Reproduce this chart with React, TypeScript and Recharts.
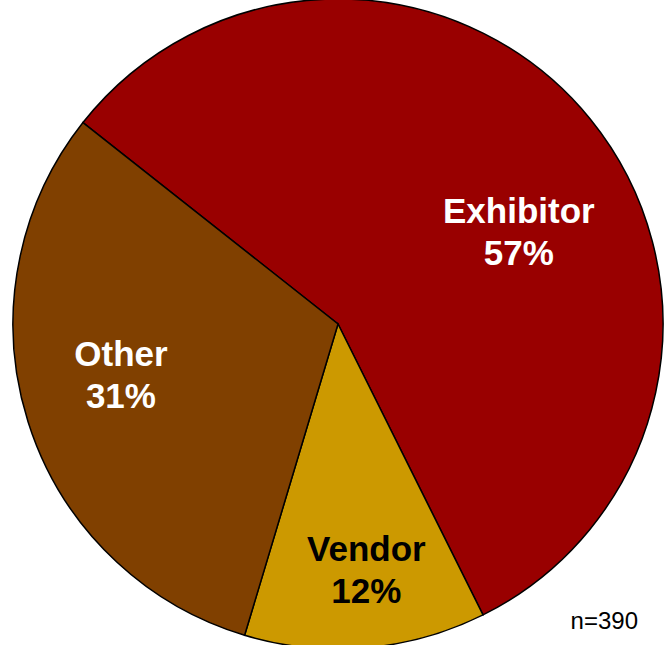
import { Cell, Pie, PieChart } from "recharts";

const categories = ["Exhibitor", "Vendor", "Other"];
const shares = [57, 12, 31];
const sampleNote = "n=390";

const sliceColors = ["#990000", "#CC9900", "#804000"];
const labelColors = ["#ffffff", "#000000", "#ffffff"];
// where each two-line label sits: angle in degrees, distance as a share of the radius
const labelSpots = [
  { angle: 27.1, ratio: 0.625 },
  { angle: -83.4, ratio: 0.76 },
  { angle: 193.2, ratio: 0.686 },
];

const rows = categories.map((name, i) => ({ name, value: shares[i] }));

const RAD = Math.PI / 180;

function SliceLabel(props: any) {
  const { cx, cy, outerRadius, index, name, value } = props;
  const spot = labelSpots[index];
  const r = outerRadius * spot.ratio;
  const x = cx + r * Math.cos(spot.angle * RAD);
  const y = cy - r * Math.sin(spot.angle * RAD);
  const style = {
    fontFamily: "'Liberation Sans', Arial, sans-serif",
    fontSize: 35,
    fontWeight: 700,
    fill: labelColors[index],
  };
  return (
    <g>
      <text x={x} y={y - 21} textAnchor="middle" dominantBaseline="central" style={style}>
        {name}
      </text>
      <text x={x} y={y + 21} textAnchor="middle" dominantBaseline="central" style={style}>
        {`${value}%`}
      </text>
    </g>
  );
}

export default function App() {
  return (
    <div style={{ position: "absolute", left: 0, top: 0, width: 667, height: 645, background: "#fff" }}>
      <PieChart width={667} height={645} margin={{ top: 0, right: 0, bottom: 0, left: 0 }}>
        <Pie
          data={rows}
          dataKey="value"
          nameKey="name"
          cx={338}
          cy={324}
          outerRadius={325}
          startAngle={141.7}
          endAngle={141.7 - 360}
          stroke="#000"
          strokeWidth={1.5}
          label={SliceLabel}
          labelLine={false}
          isAnimationActive={false}
        >
          {rows.map((row, i) => (
            <Cell key={row.name} fill={sliceColors[i]} />
          ))}
        </Pie>
        <text
          x={638}
          y={629}
          textAnchor="end"
          style={{ fontFamily: "'Liberation Sans', Arial, sans-serif", fontSize: 24, fill: "#000" }}
        >
          {sampleNote}
        </text>
      </PieChart>
    </div>
  );
}
